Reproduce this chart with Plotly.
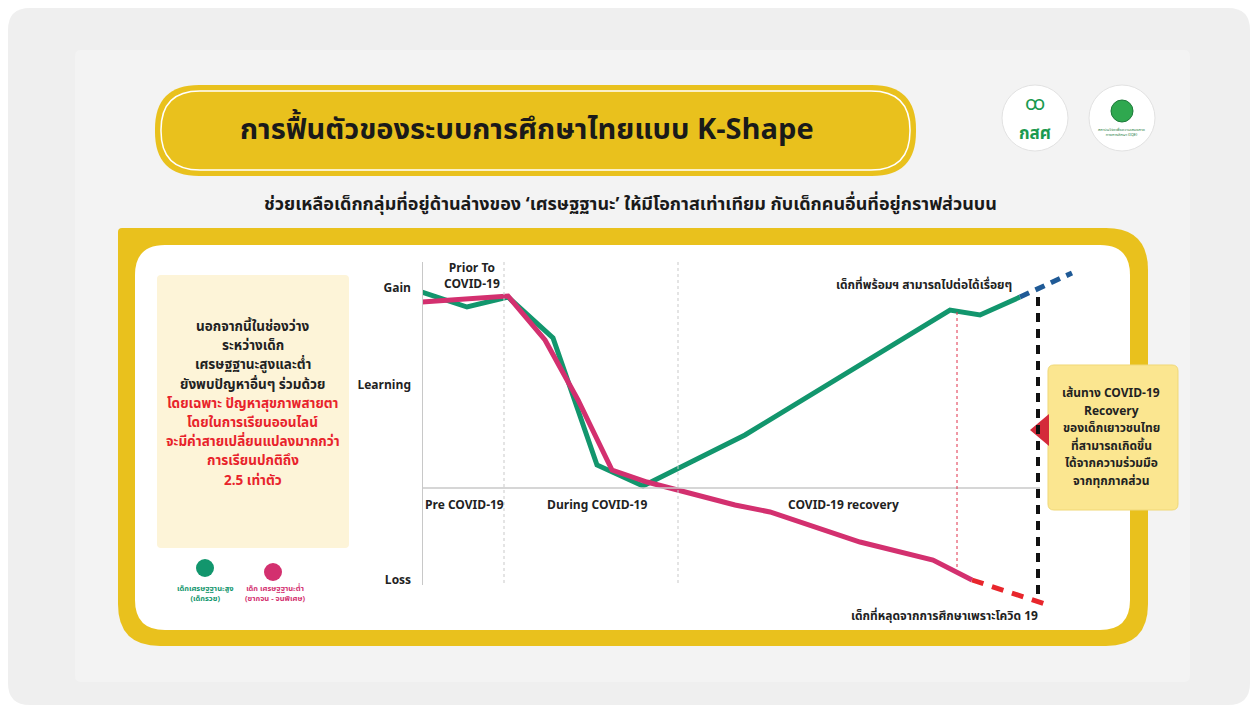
import plotly.graph_objects as go

W, H = 1257, 713

# ---------------- data (time units, learning level) ----------------
green_x = [0, 4.5, 8.6, 13.1, 17.5, 22.1, 32.3, 52.8, 55.8, 59.8]
green_y = [1.96, 1.81, 1.91, 1.50, 0.23, 0.02, 0.53, 1.78, 1.73, 1.91]
green_proj_x = [59.8, 65.0]
green_proj_y = [1.91, 2.15]

pink_x = [0, 8.6, 12.3, 15.6, 19.0, 22.5, 31.3, 34.8, 43.8, 51.1, 55.0]
pink_y = [1.86, 1.92, 1.48, 0.88, 0.18, 0.06, -0.17, -0.24, -0.54, -0.72, -0.92]
pink_proj_x = [55.0, 62.6]
pink_proj_y = [-0.92, -1.17]

y_tick_vals = [2.0, 1.03, -0.92]
y_tick_text = ["Gain", "Learning", "Loss"]

phase_bounds = [8.2, 25.6]
phase_labels = ["Pre COVID-19", "During COVID-19", "COVID-19 recovery"]
phase_label_x = [4.3, 17.5, 42.1]

GREEN = "#12966d"
PINK = "#d3306f"
BLUE = "#1f5a96"
RED = "#e8262c"
YELLOW = "#e9c11d"
FONT = "Noto Sans Thai, Loma, Garuda, Noto Sans, Roboto, sans-serif"


def px(x):
    return x / W


def py(y):
    return 1 - y / H


def rrect(x0, y0, x1, y1, r, r_tl=None):
    tl = r if r_tl is None else r_tl
    def P(x, y):
        return f"{px(x):.5f},{py(y):.5f}"
    s = f"M {P(x0 + tl, y0)} L {P(x1 - r, y0)} Q {P(x1, y0)} {P(x1, y0 + r)} "
    s += f"L {P(x1, y1 - r)} Q {P(x1, y1)} {P(x1 - r, y1)} "
    s += f"L {P(x0 + r, y1)} Q {P(x0, y1)} {P(x0, y1 - r)} "
    s += f"L {P(x0, y0 + tl)} Q {P(x0, y0)} {P(x0 + tl, y0)} Z"
    return s


shapes = []
def add_path(path, fill, line_color=None, line_width=0):
    shapes.append(dict(type="path", xref="paper", yref="paper", path=path,
                       fillcolor=fill, line=dict(color=line_color or fill, width=line_width),
                       layer="below"))

# background panels
add_path(rrect(8, 8, 1250, 705, 22), "#efefef")
add_path(rrect(75, 50, 1190, 682, 6), "#f3f3f3")
# title pill
add_path(rrect(155, 85, 916, 176, 44), YELLOW)
shapes.append(dict(type="path", xref="paper", yref="paper", path=rrect(161, 91, 910, 170, 39),
                   fillcolor="rgba(0,0,0,0)", line=dict(color="white", width=1.5), layer="below"))
# big yellow frame
add_path(rrect(118, 228, 1148, 646, 42, r_tl=4), YELLOW)
add_path(rrect(135, 245, 1130, 630, 30), "white")
# left info box
add_path(rrect(157, 275, 349, 548, 4), "#fdf4d8")
# callout
add_path(rrect(1048, 365, 1178, 510, 6), "#fbe690", "#f0d877", 1)
add_path(f"M {px(1030):.5f},{py(430):.5f} L {px(1049):.5f},{py(414):.5f} L {px(1049):.5f},{py(446):.5f} Z", "#d42a3a")

# logos
for cx in (1035, 1122):
    shapes.append(dict(type="circle", xref="paper", yref="paper",
                       x0=px(cx - 33), x1=px(cx + 33), y0=py(118 + 33), y1=py(118 - 33),
                       fillcolor="white", line=dict(color="#e2e2e2", width=1), layer="below"))
shapes.append(dict(type="circle", xref="paper", yref="paper",
                   x0=px(1111), x1=px(1133), y0=py(122), y1=py(100),
                   fillcolor="#2fa84f", line=dict(color="#1d7a3a", width=1), layer="below"))

# legend dots
for cx, cy, c in ((205, 568, GREEN), (273, 572, PINK)):
    shapes.append(dict(type="circle", xref="paper", yref="paper",
                       x0=px(cx - 9), x1=px(cx + 9), y0=py(cy + 9), y1=py(cy - 9),
                       fillcolor=c, line=dict(color=c, width=0), layer="below"))

# chart axis lines (data refs)
shapes.append(dict(type="line", xref="x", yref="y", x0=0, x1=0, y0=2.26, y1=-0.97,
                   line=dict(color="#c8c8c8", width=2)))
shapes.append(dict(type="line", xref="x", yref="y", x0=0, x1=61.8, y0=0, y1=0,
                   line=dict(color="#c8c8c8", width=1.5)))
for b in phase_bounds:
    shapes.append(dict(type="line", xref="x", yref="y", x0=b, x1=b, y0=2.26, y1=-0.97,
                       line=dict(color="#c9c9c9", width=1, dash="dot")))
shapes.append(dict(type="line", xref="x", yref="y", x0=53.5, x1=53.5, y0=1.76, y1=-0.82,
                   line=dict(color="#e0304a", width=1, dash="dot")))
shapes.append(dict(type="line", xref="x", yref="y", x0=61.6, x1=61.6, y0=1.91, y1=-1.12,
                   line=dict(color="#111111", width=4, dash="9px,7px")))

fig = go.Figure()
fig.add_trace(go.Scatter(x=green_x, y=green_y, mode="lines", line=dict(color=GREEN, width=5),
                         hoverinfo="skip"))
fig.add_trace(go.Scatter(x=pink_x, y=pink_y, mode="lines", line=dict(color=PINK, width=5),
                         hoverinfo="skip"))
fig.add_trace(go.Scatter(x=green_proj_x, y=green_proj_y, mode="lines",
                         line=dict(color=BLUE, width=5, dash="10px,7px"), hoverinfo="skip"))
fig.add_trace(go.Scatter(x=pink_proj_x, y=pink_proj_y, mode="lines",
                         line=dict(color=RED, width=5, dash="12px,9px"), hoverinfo="skip"))

ann = []
def text(x, y, t, size=12, color="#222222", xanchor="center", bold=True):
    ann.append(dict(xref="paper", yref="paper", x=px(x), y=py(y), text=(f"<b>{t}</b>" if bold else t),
                    showarrow=False, xanchor=xanchor, yanchor="middle",
                    font=dict(size=size, color=color, family=FONT)))

text(527, 130, "การฟื้นตัวของระบบการศึกษาไทยแบบ K-Shape", size=29, color="#1a1a1a")
text(630, 204, "ช่วยเหลือเด็กกลุ่มที่อยู่ด้านล่างของ ‘เศรษฐฐานะ’ ให้มีโอกาสเท่าเทียม กับเด็กคนอื่นที่อยู่กราฟส่วนบน",
     size=18, color="#1a1a1a")

left_black = ["นอกจากนี้ในช่องว่าง", "ระหว่างเด็ก", "เศรษฐฐานะสูงและต่ำ", "ยังพบปัญหาอื่นๆ ร่วมด้วย"]
left_red = ["โดยเฉพาะ ปัญหาสุขภาพสายตา", "โดยในการเรียนออนไลน์", "จะมีค่าสายเปลี่ยนแปลงมากกว่า",
            "การเรียนปกติถึง", "2.5 เท่าตัว"]
yy = 327
for t in left_black:
    text(253, yy, t, size=13.5, color="#222222")
    yy += 19.2
for t in left_red:
    text(253, yy, t, size=13.5, color="#e8232b")
    yy += 19.2

text(205, 593, "เด็กเศรษฐฐานะสูง<br>(เด็กรวย)", size=7.5, color=GREEN)
text(275, 593, "เด็ก เศรษฐฐานะต่ำ<br>(ยากจน - จนพิเศษ)", size=7.5, color=PINK)

callout = ["เส้นทาง COVID-19", "Recovery", "ของเด็กเยาวชนไทย", "ที่สามารถเกิดขึ้น", "ได้จากความร่วมมือ", "จากทุกภาคส่วน"]
yy = 393
for t in callout:
    text(1111, yy, t, size=12, color="#222222")
    yy += 17.5

text(472, 276, "Prior To<br>COVID-19", size=12)
text(924, 285, "เด็กที่พร้อมฯ สามารถไปต่อได้เรื่อยๆ", size=12)
text(945, 616, "เด็กที่หลุดจากการศึกษาเพราะโควิด 19", size=12)

# logos text
text(1035, 134, "กสศ", size=17, color="#1a9a4f")
text(1035, 104, "ꝏ", size=20, color="#1a9a4f", bold=False)
text(1122, 132, "สถาบันวิจัยเพื่อความเสมอภาค<br>ทางการศึกษา (IQE)", size=4, color="#1a7a3a", bold=False)

for lab, lx in zip(phase_labels, phase_label_x):
    ann.append(dict(xref="x", yref="y", x=lx, y=-0.17, text=f"<b>{lab}</b>", showarrow=False,
                    font=dict(size=12, color="#222222", family=FONT)))

fig.update_layout(
    width=W, height=H, margin=dict(l=0, r=0, t=0, b=0),
    paper_bgcolor="white", plot_bgcolor="rgba(0,0,0,0)",
    showlegend=False, shapes=shapes, annotations=ann,
    font=dict(family=FONT),
    xaxis=dict(domain=[px(422), px(1075)], range=[0, 65.3], visible=False, fixedrange=True),
    yaxis=dict(domain=[py(612), py(262)], range=[-1.24, 2.26], showgrid=False, zeroline=False,
               showline=False, tickvals=y_tick_vals, ticktext=[f"<b>{t}</b>" for t in y_tick_text],
               tickfont=dict(size=12, color="#222222", family=FONT), ticks="", ticklabelstandoff=10,
               fixedrange=True),
)

fig.write_html("out.html", config={"displayModeBar": False},
               post_script="document.body.style.margin='0';document.body.style.overflow='hidden';")
